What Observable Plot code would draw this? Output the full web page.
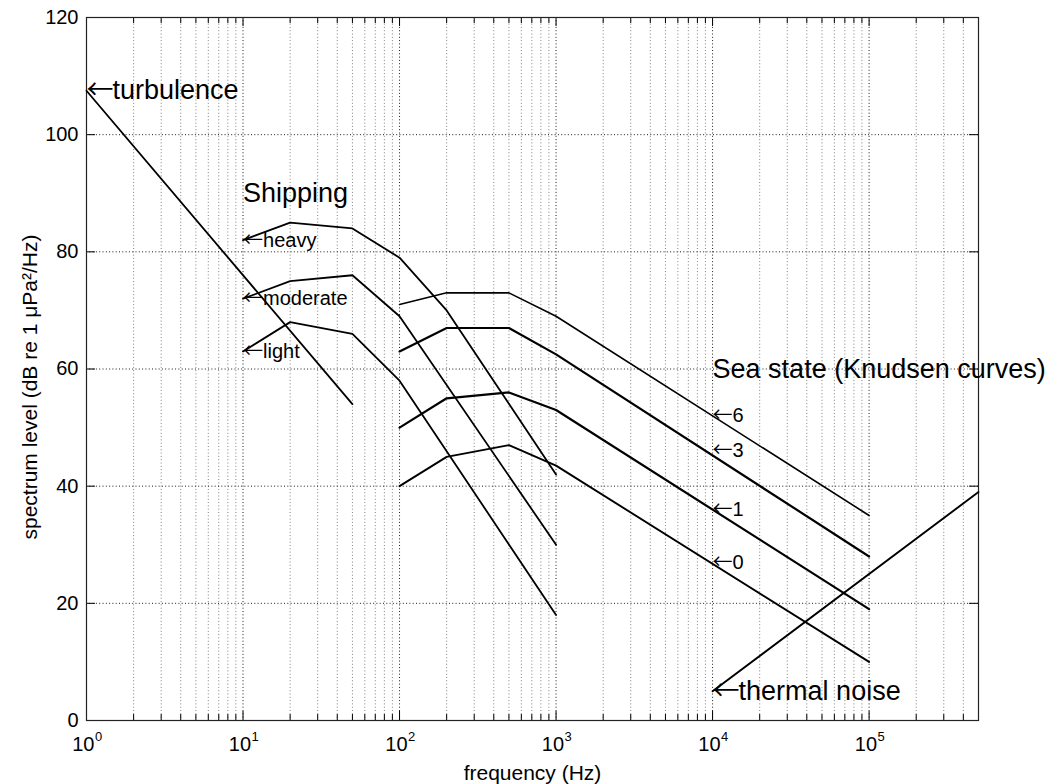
<!DOCTYPE html>
<html><head><meta charset="utf-8">
<script src="https://cdn.jsdelivr.net/npm/d3@7"></script>
<script src="https://cdn.jsdelivr.net/npm/@observablehq/plot@0.6"></script>
<style>html,body{margin:0;padding:0;background:#fff;} svg{display:block}</style>
</head><body><div id="chart"></div>
<script>
// ---- data ----
const turbF = [1, 50];
const turbL = [107.5, 54];
const heavyF = [10, 20, 50, 100, 200, 1000];
const heavyL = [82, 85, 84, 79, 70, 42];
const moderateF = [10, 20, 50, 100, 1000];
const moderateL = [72, 75, 76, 69, 30];
const lightF = [10, 20, 50, 100, 1000];
const lightL = [63, 68, 66, 58, 18];
const seaF = [100, 200, 500, 1000, 1e5];
const sea6L = [71, 73, 73, 69, 35];
const sea3L = [63, 67, 67, 62.5, 28];
const sea1L = [50, 55, 56, 53, 19];
const sea0L = [40, 45, 47, 43.5, 10];
const thermalF = [1e4, 5e5];
const thermalL = [5, 39];

// annotations: big labels (arrow flag), small labels (all with arrow)
const bigText = ["turbulence", "Shipping", "Sea state (Knudsen curves)", "thermal noise"];
const bigF = [1, 10, 1e4, 1e4];
const bigL = [107.5, 90, 60, 5];
const bigArrow = [true, false, false, true];
const smallText = ["heavy", "moderate", "light", "6", "3", "1", "0"];
const smallF = [10, 10, 10, 1e4, 1e4, 1e4, 1e4];
const smallL = [82, 72, 63, 52, 46, 36, 27];
const arrowGlyph = "\u2190";

const xMajor = [1, 10, 100, 1000, 1e4, 1e5];
const xExp = ["0", "1", "2", "3", "4", "5"];
const yTicks = [0, 20, 40, 60, 80, 100, 120];
const xLabel = "frequency (Hz)";
const yLabel = "spectrum level (dB re 1 \u03bcPa\u00b2/Hz)";

// ---- layout ----
const W = 1057, H = 784;
const mL = 86, mR = 79, mT = 17, mB = 64;
const fw = W - mL - mR, fh = H - mT - mB;
const font = '"Liberation Sans", Arial, Helvetica, sans-serif';
const arrowFont = '"Noto Sans CJK SC", "DejaVu Sans", sans-serif';
const BIG = 27, SMALL = 20;

const xDomain = [1, 5e5];
const xMinor = d3.scaleLog().domain(xDomain).ticks().filter(d => d < 5e5 && !xMajor.includes(d));

const rows = (F, L) => F.map((f, i) => ({f, L: L[i]}));
const big = bigText.map((t, i) => ({t, f: bigF[i], L: bigL[i], a: bigArrow[i]}));
const small = smallText.map((t, i) => ({t, f: smallF[i], L: smallL[i]}));
const majorRows = xMajor.map((f, i) => ({f, e: xExp[i]}));

const line = (F, L, w) => Plot.line(rows(F, L), {x: "f", y: "L", stroke: "#000", strokeWidth: w, strokeLinejoin: "round"});

const chart = Plot.plot({
  width: W, height: H,
  marginLeft: mL, marginRight: mR, marginTop: mT, marginBottom: mB,
  style: {fontFamily: font, background: "#fff", color: "#000", overflow: "visible"},
  x: {type: "log", domain: xDomain, axis: null},
  y: {domain: [0, 120], axis: null},
  marks: [
    // grid
    Plot.ruleX(xMinor, {x: d => d, stroke: "#000", strokeOpacity: 0.5, strokeWidth: 1, strokeDasharray: "1,2.3"}),
    Plot.ruleX(xMajor.slice(1), {x: d => d, stroke: "#000", strokeOpacity: 0.9, strokeWidth: 1, strokeDasharray: "1,2.3"}),
    Plot.ruleY(yTicks.slice(1, -1), {y: d => d, stroke: "#000", strokeOpacity: 0.9, strokeWidth: 1, strokeDasharray: "1,2.3"}),
    // inward ticks
    Plot.tickX(xMinor, {x: d => d, insetTop: fh - 6, stroke: "#000"}),
    Plot.tickX(xMinor, {x: d => d, insetBottom: fh - 6, stroke: "#000"}),
    Plot.tickX(xMajor, {x: d => d, insetTop: fh - 9, stroke: "#000"}),
    Plot.tickX(xMajor, {x: d => d, insetBottom: fh - 9, stroke: "#000"}),
    Plot.tickY(yTicks, {y: d => d, insetRight: fw - 9, stroke: "#000"}),
    Plot.tickY(yTicks, {y: d => d, insetLeft: fw - 9, stroke: "#000"}),
    Plot.frame({stroke: "#222", strokeWidth: 1.2}),
    // tick labels
    Plot.text(yTicks, {y: d => d, frameAnchor: "left", text: d => String(d), textAnchor: "end", lineAnchor: "middle", dx: -8, fontSize: 20, fill: "#000"}),
    Plot.text(majorRows, {x: "f", frameAnchor: "bottom", text: () => "10", textAnchor: "end", lineAnchor: "middle", dx: 8, dy: 24, fontSize: 20, fill: "#000"}),
    Plot.text(majorRows, {x: "f", frameAnchor: "bottom", text: "e", textAnchor: "start", lineAnchor: "middle", dx: 8.5, dy: 16, fontSize: 13, fill: "#000"}),
    // axis labels
    Plot.text([xLabel], {frameAnchor: "bottom", text: d => d, textAnchor: "middle", lineAnchor: "middle", dy: 53, fontSize: 21, fill: "#000"}),
    Plot.text([yLabel], {frameAnchor: "left", text: d => d, textAnchor: "middle", lineAnchor: "middle", rotate: -90, dx: -56, dy: 18, fontSize: 21, fill: "#000"}),
    // curves
    line(turbF, turbL, 1.8),
    line(heavyF, heavyL, 1.8),
    line(moderateF, moderateL, 1.8),
    line(lightF, lightL, 1.8),
    line(seaF, sea6L, 1.6),
    line(seaF, sea3L, 2.2),
    line(seaF, sea1L, 2.2),
    line(seaF, sea0L, 1.9),
    line(thermalF, thermalL, 1.9),
    // annotation arrows
    Plot.text(big.filter(d => d.a), {x: "f", y: "L", text: () => arrowGlyph, textAnchor: "start", lineAnchor: "middle", fontFamily: arrowFont, fontSize: BIG, fill: "#000"}),
    Plot.text(small, {x: "f", y: "L", text: () => arrowGlyph, textAnchor: "start", lineAnchor: "middle", fontFamily: arrowFont, fontSize: SMALL, fill: "#000"}),
    // annotation texts
    Plot.text(big.filter(d => d.a), {x: "f", y: "L", text: "t", textAnchor: "start", lineAnchor: "middle", dx: 26, fontSize: BIG, fill: "#000"}),
    Plot.text(big.filter(d => !d.a), {x: "f", y: "L", text: "t", textAnchor: "start", lineAnchor: "middle", fontSize: BIG, fill: "#000"}),
    Plot.text(small, {x: "f", y: "L", text: "t", textAnchor: "start", lineAnchor: "middle", dx: 20, fontSize: SMALL, fill: "#000"})
  ]
});
document.getElementById("chart").appendChild(chart);
</script>
</body></html>
